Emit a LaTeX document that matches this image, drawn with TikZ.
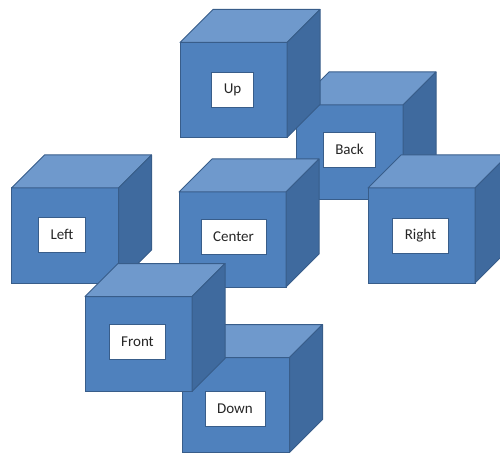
\documentclass[tikz,border=0pt]{standalone}
\usepackage{fontspec}
\setmainfont{Carlito}
\usepackage{tikz}
\usetikzlibrary{positioning}

\definecolor{faceblue}{HTML}{4F81BD}
\definecolor{topblue}{HTML}{6F99CC}
\definecolor{sideblue}{HTML}{3F6A9E}
\definecolor{edgeblue}{HTML}{385D8A}

\tikzset{
  frontface/.style={draw=edgeblue, fill=faceblue, line width=1pt,
    minimum width=107pt, minimum height=95pt, inner sep=0pt, outer sep=0pt},
  topface/.style={draw=edgeblue, fill=topblue, line width=1pt, line join=round},
  sideface/.style={draw=edgeblue, fill=sideblue, line width=1pt, line join=round},
  tag/.style={draw=edgeblue, fill=white, line width=0.6pt, inner xsep=12pt,
    minimum height=35pt, font=\fontsize{15}{18}\selectfont, text=black!85}
}

% one block: front face node, top and side faces, label box (shifted by #4)
\newcommand{\blockcube}[4]{%
  \node[frontface] (#1) at (#2) {};
  \draw[topface] (#1.north west) -- ++(33,-33) -- ++(107,0) -- (#1.north east) -- cycle;
  \draw[sideface] (#1.north east) -- ++(33,-33) -- ++(0,95) -- (#1.south east) -- cycle;
  \node[tag] (#1-tag) at ([shift={(#4)}]#1.center) {#3};
}

\begin{document}
\begin{tikzpicture}[x=1pt, y=-1pt]
\useasboundingbox (0,0) rectangle (500,454);
\clip (0,0) rectangle (500,454);
% Blocks, back to front
\blockcube{back}{349.5,152.5}{Back}{0,-3}
\blockcube{up}{233.5,90}{Up}{-1,0}
\blockcube{left}{65,235.5}{Left}{-3,-1}
\blockcube{center}{232.5,239.5}{Center}{1,-3}
\blockcube{right}{421.5,235.5}{Right}{-1,0}
\blockcube{down}{236,405}{Down}{-1,4}
\blockcube{front}{138.5,344}{Front}{-1,-2}
\end{tikzpicture}
\end{document}
